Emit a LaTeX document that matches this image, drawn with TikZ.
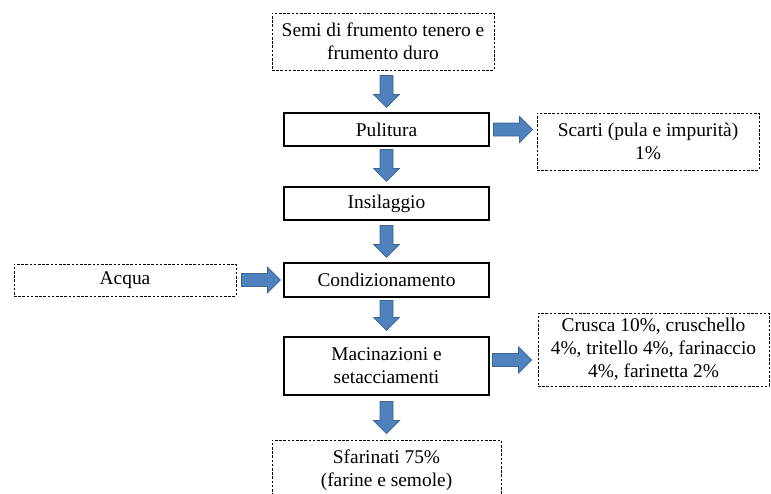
\documentclass[tikz,border=0pt]{standalone}
\usepackage{fontspec}
\setmainfont{Liberation Serif}
\usetikzlibrary{calc}
\definecolor{arrowblue}{HTML}{4F81BD}
\definecolor{arrowedge}{HTML}{3A6396}
\tikzset{
  solidbox/.style={draw=black, line width=1.1pt, inner sep=0pt, align=center,
    font=\fontsize{19.4}{23}\selectfont},
  dashbox/.style={draw=black, line width=0.9pt, dash pattern=on 2.6pt off 1.6pt,
    inner sep=0pt, align=center, font=\fontsize{19.4}{23}\selectfont},
  blockarrow/.style={draw=arrowedge, fill=arrowblue, line width=0.7pt,
    to path={
      let \p1=(\tikztostart), \p2=(\tikztotarget),
          \p3=($(\p2)!13pt!(\p1)$) in
      ($(\p1)!6.5pt!90:(\p2)$)
      -- ($(\p3)!6.5pt!90:(\p2)$)
      -- ($(\p3)!13pt!90:(\p2)$)
      -- (\p2)
      -- ($(\p3)!13pt!-90:(\p2)$)
      -- ($(\p3)!6.5pt!-90:(\p2)$)
      -- ($(\p1)!6.5pt!-90:(\p2)$) -- cycle
    }}
}
\begin{document}
\begin{tikzpicture}[x=1pt,y=-1pt]
\useasboundingbox (0,0) rectangle (771,493);
\clip (0,0) rectangle (771,493);
\node[dashbox, minimum width=222pt, minimum height=57pt] (semi) at (383,41.5)
  {Semi di frumento tenero e\\frumento duro};
\node[solidbox, minimum width=205pt, minimum height=33pt] (pul) at (386.5,129.5) {Pulitura};
\node[dashbox, minimum width=222pt, minimum height=57pt] (scarti) at (648,141.5)
  {Scarti (pula e impurità)\\1\%};
\node[solidbox, minimum width=205pt, minimum height=33pt] (ins) at (386.5,203.5) {Insilaggio};
\node[dashbox, minimum width=222pt, minimum height=32pt] (acqua) at (125,280) {Acqua};
\node[solidbox, minimum width=205pt, minimum height=34pt] (cond) at (386.5,280) {Condizionamento};
\node[solidbox, minimum width=205pt, minimum height=58pt] (mac) at (386.5,366)
  {Macinazioni e\\setacciamenti};
\node[dashbox, minimum width=231pt, minimum height=73pt] (crusca) at (653.5,349.5)
  {Crusca 10\%, cruschello\\4\%, tritello 4\%, farinaccio\\4\%, farinetta 2\%};
\node[dashbox, minimum width=229pt, minimum height=60pt] (sfar) at (386.5,470)
  {Sfarinati 75\%\\(farine e semole)};

\draw[blockarrow] ([yshift=-5pt]pul.north |- semi.south) to ([yshift=5pt]pul.north);
\draw[blockarrow] ([yshift=-3pt]pul.south) to ([yshift=5pt]ins.north);
\draw[blockarrow] ([yshift=-5pt]ins.south) to ([yshift=5pt]cond.north);
\draw[blockarrow] ([yshift=-3pt]cond.south) to ([yshift=6pt]mac.north);
\draw[blockarrow] ([yshift=-6pt]mac.south) to ([yshift=6pt]sfar.north);
\draw[blockarrow] ([xshift=4pt]pul.east) to ([xshift=-4pt]scarti.west |- pul.east);
\draw[blockarrow] ([xshift=5pt]acqua.east) to ([xshift=-3pt]cond.west);
\draw[blockarrow] ([xshift=3pt,yshift=6pt]mac.east) to ([xshift=-6pt,yshift=6pt]crusca.west |- mac.east);
\end{tikzpicture}
\end{document}
